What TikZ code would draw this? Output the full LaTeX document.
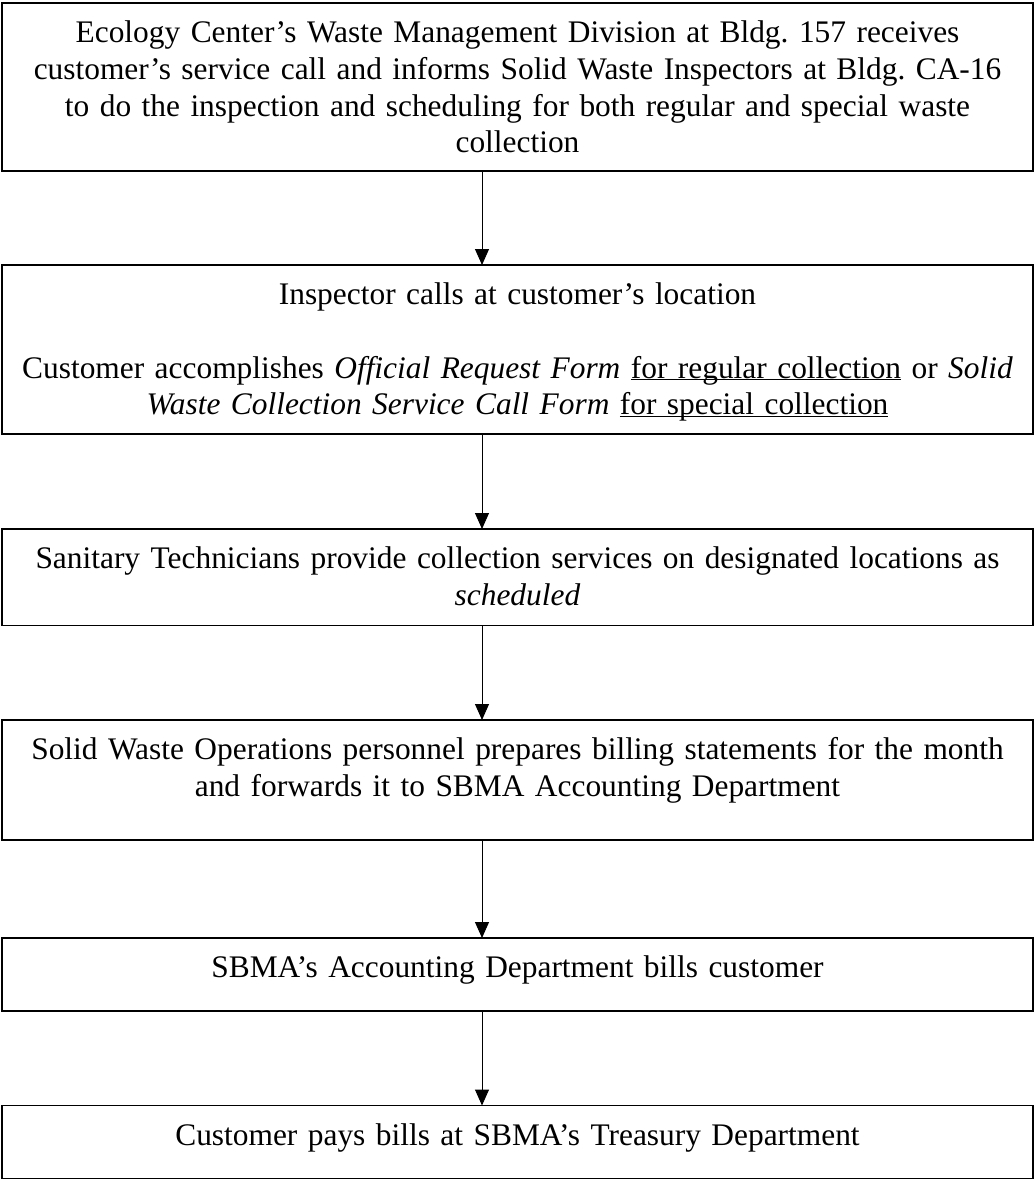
\documentclass[tikz,border=0pt]{standalone}
\usepackage{fontspec}
\setmainfont{Liberation Serif}
\usepackage{tikz}
\usetikzlibrary{arrows.meta}
\frenchspacing
\newcommand{\formnote}[1]{\underline{\smash{#1}}}

\tikzset{
  stepbox/.style={draw, line width=1.5pt, anchor=north, outer sep=0pt, inner xsep=0pt, inner ysep=0pt,
    minimum width=1031pt, text width=1025pt, align=center, text height=39.5pt, font=\fontsize{31.4}{36.8}\selectfont},
  flowarrow/.style={line width=1pt, -{Triangle[width=14pt,length=16pt]}}
}

\begin{document}
\begin{tikzpicture}[x=1pt, y=-1pt]
\useasboundingbox (0,0) rectangle (1035,1180);
\node[stepbox, text depth=128.5pt] (call) at (517.5,3) {Ecology Center’s Waste Management Division at Bldg. 157 receives\\ customer’s service call and informs Solid Waste Inspectors at Bldg. CA-16\\ to do the inspection and scheduling for both regular and special waste\\ collection};
\node[stepbox, text depth=129.5pt] (visit) at (517.5,265) {Inspector calls at customer’s location\\[36.8pt] Customer accomplishes \textit{Official Request Form} \formnote{for regular collection} or \textit{Solid}\\ \textit{Waste Collection Service Call Form} \formnote{for special collection}};
\node[stepbox, text depth=57pt] (collect) at (517.5,529) {Sanitary Technicians provide collection services on designated locations as\\ \textit{scheduled}};
\node[stepbox, text depth=80.5pt] (billing) at (517.5,720) {Solid Waste Operations personnel prepares billing statements for the month\\ and forwards it to SBMA Accounting Department};
\node[stepbox, text depth=33.5pt] (bills) at (517.5,938) {SBMA’s Accounting Department bills customer};
\node[stepbox, text depth=33.5pt] (pay) at (517.5,1105.5) {Customer pays bills at SBMA’s Treasury Department};
% arrows sit left of the box centre
\draw[flowarrow] ([xshift=-35.5pt]call.south) -- ([xshift=-35.5pt]visit.north);
\draw[flowarrow] ([xshift=-35.5pt]visit.south) -- ([xshift=-35.5pt]collect.north);
\draw[flowarrow] ([xshift=-35.5pt]collect.south) -- ([xshift=-35.5pt]billing.north);
\draw[flowarrow] ([xshift=-35.5pt]billing.south) -- ([xshift=-35.5pt]bills.north);
\draw[flowarrow] ([xshift=-35.5pt]bills.south) -- ([xshift=-35.5pt]pay.north);
\end{tikzpicture}
\end{document}
